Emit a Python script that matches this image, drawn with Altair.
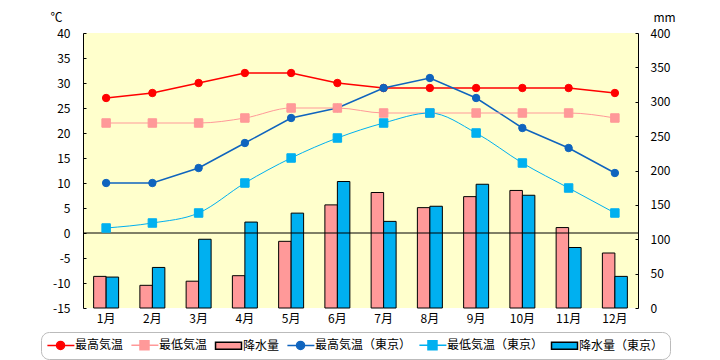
import altair as alt
import pandas as pd

FONT = "Noto Sans CJK JP"

months = ["1月", "2月", "3月", "4月", "5月", "6月", "7月", "8月", "9月", "10月", "11月", "12月"]
series = ["最高気温", "最低気温", "降水量", "最高気温（東京）", "最低気温（東京）", "降水量（東京）"]

max_temp = [27, 28, 30, 32, 32, 30, 29, 29, 29, 29, 29, 28]
min_temp = [22, 22, 22, 23, 25, 25, 24, 24, 24, 24, 24, 23]
rain = [46, 33, 39, 47, 97, 150, 168, 146, 162, 171, 117, 80]
tokyo_max = [10, 10, 13, 18, 23, 25, 29, 31, 27, 21, 17, 12]
tokyo_min = [1, 2, 4, 10, 15, 19, 22, 24, 20, 14, 9, 4]
tokyo_rain = [45, 59, 100, 125, 138, 184, 126, 148, 180, 164, 88, 46]

temp_ticks = [-15, -10, -5, 0, 5, 10, 15, 20, 25, 30, 35, 40]
rain_ticks = [0, 50, 100, 150, 200, 250, 300, 350, 400]
zero_line = [0]

fill_colors = ["#FF0000", "#FF9999", "#FF9999", "#0F64BE", "#00B0F0", "#00B0F0"]
stroke_colors = ["#FF0000", "#FF9999", "#000000", "#0F64BE", "#00B0F0", "#000000"]
# legend glyphs (line + marker, or bar swatch)
CIRCLE_LINE = "M-1.1,0H3.4M0.42,0A0.67,0.67,0,1,1,1.76,0A0.67,0.67,0,1,1,0.42,0Z"
SQUARE_LINE = "M-1.1,0H3.4M0.33,-0.75H1.83V0.75H0.33Z"
BAR_SWATCH = "M-1.08,-0.58H3.25V0.58H-1.08Z"
legend_shapes = [CIRCLE_LINE, SQUARE_LINE, BAR_SWATCH, CIRCLE_LINE, SQUARE_LINE, BAR_SWATCH]


def long(names, arrays):
    rows = []
    for name, arr in zip(names, arrays):
        for m, v in zip(months, arr):
            rows.append({"month": m, "series": name, "value": v})
    return pd.DataFrame(rows)


max_df = long([series[0], series[3]], [max_temp, tokyo_max])
min_df = long([series[1], series[4]], [min_temp, tokyo_min])
rain_df = long([series[2], series[5]], [rain, tokyo_rain])
all_temp_df = pd.concat([max_df, min_df])
zero_df = pd.DataFrame({"value": zero_line})

leg = alt.Legend(
    title=None, orient="none", legendX=-42, legendY=299, direction="horizontal",
    columns=6, symbolSize=144, symbolStrokeWidth=1.5, symbolOpacity=1,
    symbolFillColor="black", labelOffset=14, columnPadding=4, padding=6,
    strokeColor="#BBBBBB", cornerRadius=8, fillColor="white",
    labelFont=FONT, labelFontSize=12, labelColor="black", labelLimit=200,
)

fill_enc = alt.Fill("series:N", scale=alt.Scale(domain=series, range=fill_colors), legend=leg)
stroke_enc = alt.Stroke("series:N", scale=alt.Scale(domain=series, range=stroke_colors), legend=leg)
shape_enc = alt.Shape("series:N", scale=alt.Scale(domain=series, range=legend_shapes), legend=leg)

x_enc = alt.X(
    "month:N", sort=months,
    scale=alt.Scale(domain=months, paddingInner=0.46, paddingOuter=0.23),
    axis=alt.Axis(title=None, labelAngle=0, domain=False, ticks=False, grid=False,
                  labelPadding=5, labelFont=FONT, labelFontSize=12, labelColor="black"),
)

y_temp = alt.Y(
    "value:Q",
    scale=alt.Scale(domain=[-15, 40], nice=False, zero=False),
    axis=alt.Axis(
        orient="left", values=temp_ticks, labelExpr="'' + datum.value", labelOverlap=False,
        title="℃", titleAngle=0, titleX=-27, titleY=-16, titleAlign="center",
        titleBaseline="middle", titleFontWeight="normal", titleFont=FONT, titleFontSize=12,
        titleColor="black",
        domainColor="black", domainWidth=1, ticks=False, labelPadding=13,
        grid=True, gridColor="black", gridDash=[3, 2000], gridWidth=1, gridOpacity=1,
        labelFont=FONT, labelFontSize=12, labelColor="black",
    ),
)

y_rain = alt.Y(
    "value:Q",
    scale=alt.Scale(domain=[0, 400], nice=False),
    axis=alt.Axis(
        orient="right", values=rain_ticks, labelOverlap=False,
        title="mm", titleAngle=0, titleX=26, titleY=-16, titleAlign="center",
        titleBaseline="middle", titleFontWeight="normal", titleFont=FONT, titleFontSize=12,
        titleColor="black",
        domainColor="black", domainWidth=1, ticks=False, labelPadding=12,
        grid=True, gridColor="black", gridDash=[3, 2000], gridWidth=1, gridOpacity=1,
        labelFont=FONT, labelFontSize=12, labelColor="black",
    ),
)

bars = alt.Chart(rain_df).mark_bar(strokeWidth=1).encode(
    x=x_enc,
    xOffset=alt.XOffset("series:N", scale=alt.Scale(domain=[series[2], series[5]], paddingInner=0, paddingOuter=0)),
    y=y_rain,
    fill=fill_enc,
    stroke=stroke_enc,
)

zero_rule = alt.Chart(zero_df).mark_rule(color="black", strokeWidth=1).encode(y=y_temp)

max_lines = alt.Chart(max_df).mark_line(strokeWidth=1.5).encode(
    x=x_enc, y=y_temp, stroke=stroke_enc, detail="series:N"
)
min_lines = alt.Chart(min_df).mark_line(strokeWidth=1, interpolate="monotone").encode(
    x=x_enc, y=y_temp, stroke=stroke_enc, detail="series:N"
)
max_pts = alt.Chart(max_df).mark_point(shape="circle", filled=True, size=55, opacity=1, strokeWidth=1).encode(
    x=x_enc, y=y_temp, fill=fill_enc, stroke=stroke_enc
)
min_pts = alt.Chart(min_df).mark_point(shape="square", filled=True, size=72, opacity=1, strokeWidth=1).encode(
    x=x_enc, y=y_temp, fill=fill_enc, stroke=stroke_enc
)
legend_layer = alt.Chart(all_temp_df).transform_filter("false").mark_point(filled=True, opacity=1).encode(
    x=x_enc, y=y_temp, fill=fill_enc, stroke=stroke_enc, shape=shape_enc
)

temps = alt.layer(zero_rule, max_lines, min_lines, max_pts, min_pts, legend_layer)

chart = alt.layer(bars, temps).resolve_scale(y="independent").properties(
    width=555, height=275,
    padding={"left": 75, "top": 25, "right": 74, "bottom": 52},
    autosize=alt.AutoSizeParams(type="none"),
).configure_view(fill="#FFFFCC", strokeWidth=0)

chart.save("out.html", embed_options={"renderer": "svg", "actions": False})
